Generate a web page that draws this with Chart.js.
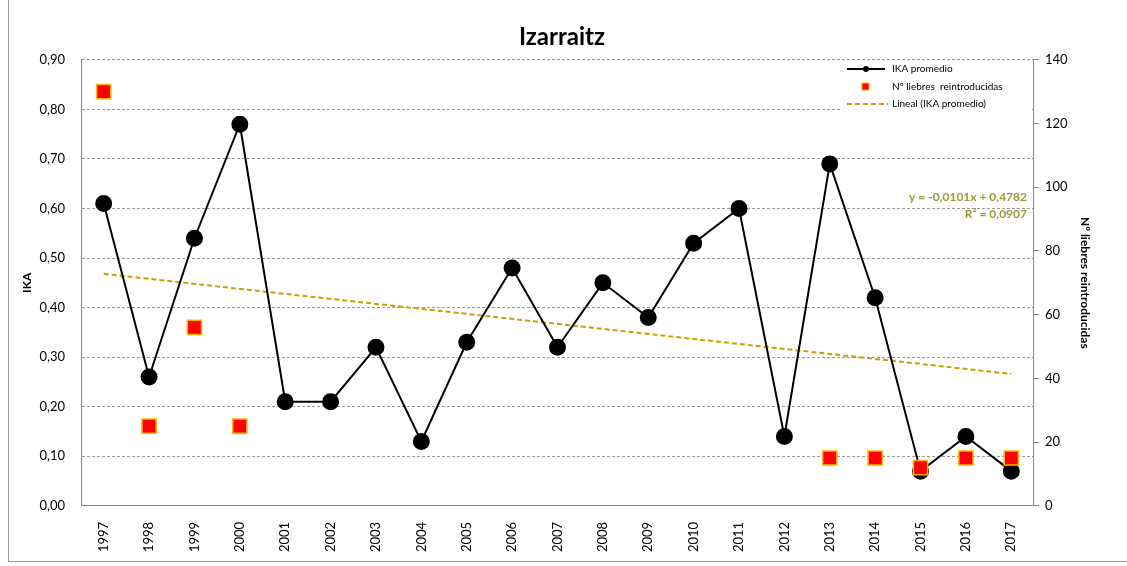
<!DOCTYPE html>
<html>
<head>
<meta charset="utf-8">
<script src="https://cdn.jsdelivr.net/npm/chart.js@4.4.0/dist/chart.umd.min.js"></script>
<style>
  html, body { margin: 0; padding: 0; background: #fff; }
  #wrap { position: relative; width: 1127px; height: 566px; }
  #frame { position: absolute; left: 8px; top: -2px; width: 1130px; height: 564px; border: 1px solid #999; box-sizing: border-box; }
  canvas { position: absolute; left: 0; top: 0; }
</style>
</head>
<body>
<div id="wrap">
  <div id="frame"></div>
  <canvas id="myChart" width="1127" height="566"></canvas>
</div>
<script>
const years = ['1997','1998','1999','2000','2001','2002','2003','2004','2005','2006','2007',
               '2008','2009','2010','2011','2012','2013','2014','2015','2016','2017'];
const ikaPromedio = [0.61, 0.26, 0.54, 0.77, 0.21, 0.21, 0.32, 0.13, 0.33, 0.48, 0.32,
                     0.45, 0.38, 0.53, 0.60, 0.14, 0.69, 0.42, 0.07, 0.14, 0.07];
const liebres = [130, 25, 56, 25, null, null, null, null, null, null, null,
                 null, null, null, null, null, 15, 15, 12, 15, 15];
// linear trend shown in the original (Excel): y = -0,0101x + 0,4782
const trendSlope = -0.0101;
const trendIntercept = 0.4782;
const trendLabel = 'y = -0,0101x + 0,4782';
const r2Label = 'R² = 0,0907';

const trendData = [
    { x: years[0], y: trendSlope * 1 + trendIntercept },
    { x: years[years.length - 1], y: trendSlope * years.length + trendIntercept }
];

const FONT = 'Lato, "Open Sans", sans-serif';

const comma = (v, d) => v.toFixed(d).replace('.', ',');

// legend box + trend equation, drawn inside the plot area like Excel does
const extrasPlugin = {
    id: 'extras',
    afterDatasetsDraw(chart) {
        const ctx = chart.ctx;
        const area = chart.chartArea;
        ctx.save();
        // legend
        const lx = 840, ly = 60, lw = 190, lh = 50;
        ctx.fillStyle = '#fff';
        ctx.fillRect(lx, ly, lw, lh);
        ctx.font = '10px ' + FONT;
        ctx.textBaseline = 'middle';
        ctx.fillStyle = '#000';
        // IKA promedio
        ctx.strokeStyle = '#000';
        ctx.lineWidth = 2;
        ctx.beginPath(); ctx.moveTo(847, 69); ctx.lineTo(885, 69); ctx.stroke();
        ctx.beginPath(); ctx.arc(866, 69, 3, 0, Math.PI * 2); ctx.fill();
        ctx.fillText('IKA promedio', 892, 69);
        // squares
        ctx.fillStyle = '#ff0000';
        ctx.strokeStyle = '#ffb000';
        ctx.lineWidth = 1;
        ctx.fillRect(862, 83, 7, 7);
        ctx.strokeRect(862, 83, 7, 7);
        ctx.fillStyle = '#000';
        ctx.fillText('Nº liebres  reintroducidas', 892, 87);
        // trend
        ctx.strokeStyle = '#c9a000';
        ctx.lineWidth = 2;
        ctx.setLineDash([5, 3]);
        ctx.beginPath(); ctx.moveTo(847, 104); ctx.lineTo(888, 104); ctx.stroke();
        ctx.setLineDash([]);
        ctx.fillText('Lineal (IKA promedio)', 892, 104);
        // equation
        ctx.font = 'bold 12px ' + FONT;
        ctx.fillStyle = '#9a9a3a';
        ctx.textAlign = 'right';
        ctx.fillText(trendLabel, area.right - 7, 197);
        ctx.fillText(r2Label, area.right - 7, 214);
        ctx.restore();
    }
};

const ctx = document.getElementById('myChart');
const config = {
    data: {
        labels: years,
        datasets: [
            {
                type: 'line',
                label: 'Nº liebres reintroducidas',
                data: liebres,
                yAxisID: 'y2',
                showLine: false,
                pointStyle: 'rect',
                pointRadius: 10,
                pointBackgroundColor: '#ff0000',
                pointBorderColor: '#ffb000',
                pointBorderWidth: 1.5,
                order: 0
            },
            {
                type: 'line',
                label: 'IKA promedio',
                data: ikaPromedio,
                yAxisID: 'y',
                borderColor: '#000',
                borderWidth: 2,
                pointRadius: 7.5,
                pointBackgroundColor: '#000',
                pointBorderColor: '#000',
                tension: 0,
                order: 1
            },
            {
                type: 'line',
                label: 'Lineal (IKA promedio)',
                data: trendData,
                yAxisID: 'y',
                borderColor: '#c9a000',
                borderWidth: 2,
                borderDash: [5, 3],
                pointRadius: 0,
                order: 2
            }
        ]
    },
    options: {
        responsive: false,
        animation: false,
        layout: { padding: { left: 20, right: 23, top: 10, bottom: 6 } },
        plugins: {
            legend: { display: false },
            tooltip: { enabled: false },
            title: {
                display: true,
                text: 'Izarraitz',
                color: '#000',
                font: { family: FONT, size: 24, weight: 'bold' },
                padding: { top: 13, bottom: 8 }
            }
        },
        scales: {
            x: {
                offset: true,
                grid: { display: false },
                border: { color: '#888' },
                ticks: {
                    color: '#000',
                    font: { family: FONT, size: 13 },
                    minRotation: 90,
                    maxRotation: 90,
                    padding: 8
                }
            },
            y: {
                position: 'left',
                min: 0,
                max: 0.9,
                afterFit: (scale) => { scale.width = 61; },
                ticks: {
                    stepSize: 0.1,
                    color: '#000',
                    font: { family: FONT, size: 13 },
                    padding: 16,
                    callback: (v) => comma(v, 2)
                },
                grid: {
                    color: '#999',
                    lineWidth: 1,
                    drawTicks: false
                },
                border: { color: '#888', dash: [3, 2] },
                title: {
                    display: true,
                    text: 'IKA',
                    color: '#000',
                    font: { family: FONT, size: 12, weight: 'bold' },
                    padding: 0
                }
            },
            y2: {
                position: 'right',
                min: 0,
                max: 140,
                ticks: {
                    stepSize: 20,
                    color: '#000',
                    font: { family: FONT, size: 13 },
                    padding: 6
                },
                grid: { drawOnChartArea: false, color: '#888', tickLength: 5 },
                border: { color: '#888' },
                title: {
                    display: true,
                    text: 'Nº liebres reintroducidas',
                    color: '#000',
                    font: { family: FONT, size: 12, weight: 'bold' },
                    padding: { top: 12 }
                }
            }
        }
    },
    plugins: [extrasPlugin]
};

const myChart = new Chart(ctx, config);
</script>
</body>
</html>
